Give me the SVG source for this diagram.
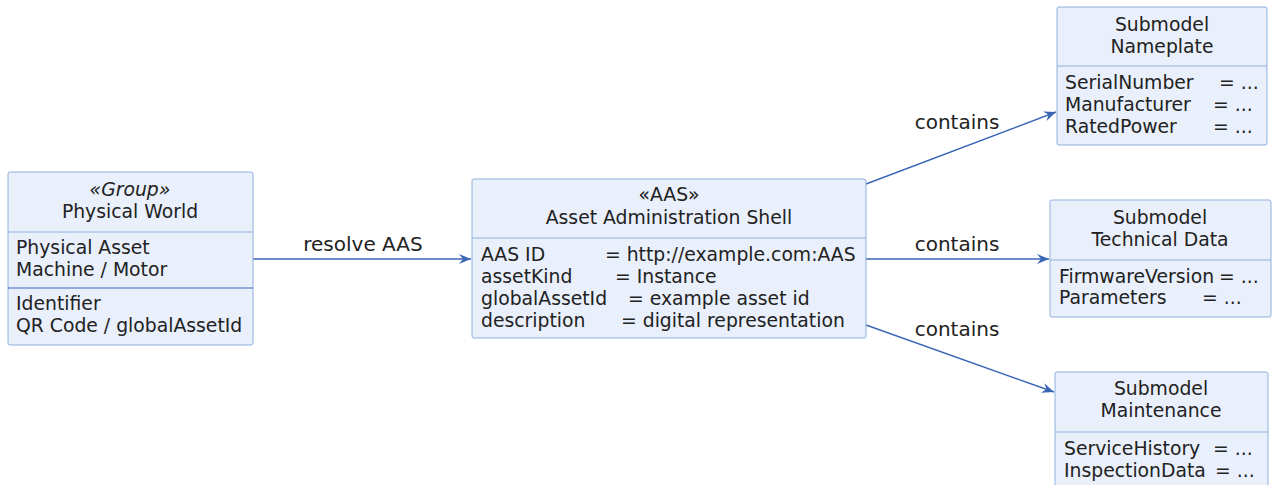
<svg xmlns="http://www.w3.org/2000/svg" width="1272" height="485" viewBox="0 0 1272 485">
  <defs>
    <style>
      .box { fill: #E9F0FC; stroke: #8FB0DE; stroke-width: 1; }
      .sep { stroke: #8FB0DE; stroke-width: 1; }
      .sep2 { stroke: #3A66B5; stroke-width: 1.2; }
      text { font-family: "DejaVu Sans", "Liberation Sans", sans-serif; font-size: 18.8px; fill: #222222; }
      .c { text-anchor: middle; }
      .it { font-style: italic; }
      .edge { fill: none; stroke: #3A66B5; stroke-width: 1.4; }
      .lbl { font-size: 20px; text-anchor: middle; }
    </style>
    <marker id="arr" viewBox="0 0 12 10" refX="12" refY="5" markerWidth="12" markerHeight="10" markerUnits="userSpaceOnUse" orient="auto">
      <path d="M12,5 L0,0 L4,5 L0,10 Z" fill="#3A66B5"/>
    </marker>
  </defs>

  <!-- connectors -->
  <g id="connectors">
    <line class="edge" x1="253" y1="259" x2="471" y2="259" marker-end="url(#arr)"/>
    <text class="lbl" x="363" y="251">resolve AAS</text>
    <line class="edge" x1="866" y1="184" x2="1056" y2="112" marker-end="url(#arr)"/>
    <text class="lbl" x="957" y="129">contains</text>
    <line class="edge" x1="866" y1="259" x2="1049" y2="259" marker-end="url(#arr)"/>
    <text class="lbl" x="957" y="251">contains</text>
    <line class="edge" x1="866" y1="325" x2="1054" y2="392" marker-end="url(#arr)"/>
    <text class="lbl" x="957" y="336">contains</text>
  </g>

  <!-- physical world -->
  <g id="physical-world">
    <rect class="box" x="8" y="172" width="245" height="173" rx="2"/>
    <line class="sep" x1="8" y1="232" x2="253" y2="232"/>
    <line class="sep2" x1="8" y1="288" x2="253" y2="288"/>
    <text class="c it" x="130" y="196">«Group»</text>
    <text class="c" x="130" y="218">Physical World</text>
    <text x="16" y="254">Physical Asset</text>
    <text x="16" y="276">Machine / Motor</text>
    <text x="16" y="310">Identifier</text>
    <text x="16" y="332">QR Code / globalAssetId</text>
  </g>

  <!-- asset administration shell -->
  <g id="aas">
    <rect class="box" x="472" y="179" width="394" height="159" rx="2"/>
    <line class="sep" x1="472" y1="238" x2="866" y2="238"/>
    <text class="c" x="669" y="201">«AAS»</text>
    <text class="c" x="669" y="224">Asset Administration Shell</text>
    <text x="481" y="261">AAS ID</text>
    <text x="605" y="261">= http://example.com:AAS</text>
    <text x="481" y="283">assetKind</text>
    <text x="615" y="283">= Instance</text>
    <text x="481" y="305">globalAssetId</text>
    <text x="628" y="305">= example asset id</text>
    <text x="481" y="327">description</text>
    <text x="621" y="327">= digital representation</text>
  </g>

  <!-- submodel nameplate -->
  <g id="sm-nameplate">
    <rect class="box" x="1057" y="7" width="210" height="138" rx="2"/>
    <line class="sep" x1="1057" y1="66" x2="1267" y2="66"/>
    <text class="c" x="1162" y="31">Submodel</text>
    <text class="c" x="1162" y="53">Nameplate</text>
    <text x="1065" y="89">SerialNumber</text>
    <text x="1219" y="89">= ...</text>
    <text x="1065" y="111">Manufacturer</text>
    <text x="1213" y="111">= ...</text>
    <text x="1065" y="133">RatedPower</text>
    <text x="1213" y="133">= ...</text>
  </g>

  <!-- submodel technical data -->
  <g id="sm-technical">
    <rect class="box" x="1050" y="200" width="221" height="117" rx="2"/>
    <line class="sep" x1="1050" y1="260" x2="1271" y2="260"/>
    <text class="c" x="1160" y="224">Submodel</text>
    <text class="c" x="1160" y="246">Technical Data</text>
    <text x="1059" y="283">FirmwareVersion</text>
    <text x="1219" y="283">= ...</text>
    <text x="1059" y="304">Parameters</text>
    <text x="1202" y="304">= ...</text>
  </g>

  <!-- submodel maintenance -->
  <g id="sm-maintenance">
    <rect class="box" x="1055" y="372" width="213" height="118" rx="2"/>
    <line class="sep" x1="1055" y1="432" x2="1268" y2="432"/>
    <text class="c" x="1161" y="395">Submodel</text>
    <text class="c" x="1161" y="417">Maintenance</text>
    <text x="1064" y="455">ServiceHistory</text>
    <text x="1213" y="455">= ...</text>
    <text x="1064" y="477">InspectionData</text>
    <text x="1215" y="477">= ...</text>
  </g>
</svg>
